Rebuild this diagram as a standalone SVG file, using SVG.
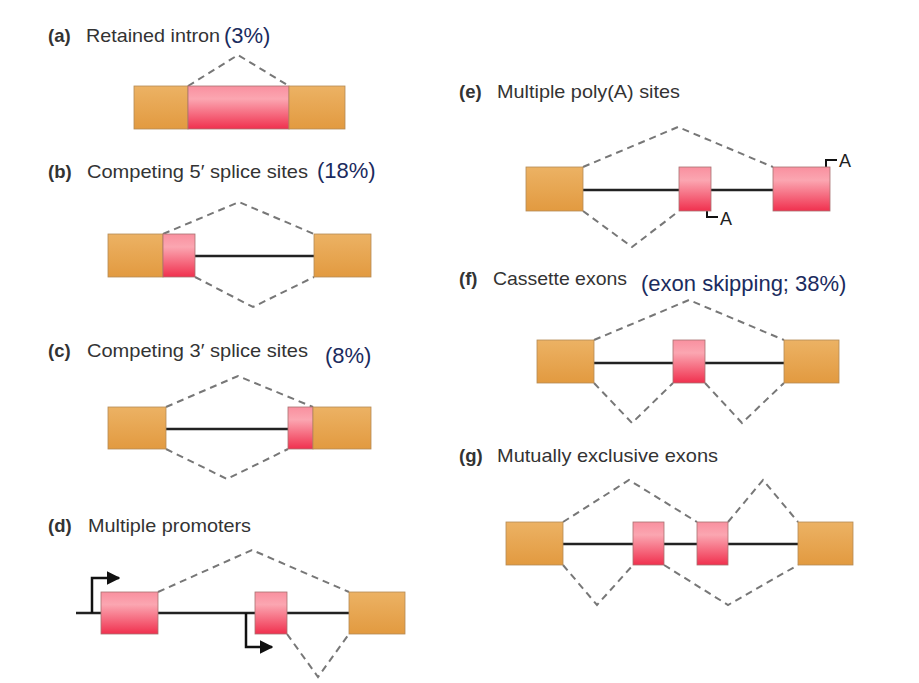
<svg xmlns="http://www.w3.org/2000/svg" width="919" height="683" viewBox="0 0 919 683">
<defs>
<linearGradient id="gOr" x1="0" y1="0" x2="0" y2="1">
<stop offset="0" stop-color="#ecb264"/><stop offset="1" stop-color="#e29a40"/>
</linearGradient>
<linearGradient id="gPk" x1="0" y1="0" x2="0" y2="1">
<stop offset="0" stop-color="#f9909f"/><stop offset="0.3" stop-color="#fba6b1"/><stop offset="1" stop-color="#f0304e"/>
</linearGradient>
<marker id="arr" viewBox="0 0 10 10" refX="9" refY="5" markerWidth="5.5" markerHeight="5.5" markerUnits="strokeWidth" orient="auto">
<path d="M0,0 L10,5 L0,10 z" fill="#111"/>
</marker>
<style>
.or{fill:url(#gOr);stroke:#b58a55;stroke-width:0.8}
.pk{fill:url(#gPk);stroke:#a87070;stroke-width:0.8}
.intron{stroke:#222;stroke-width:2.5;fill:none}
.dash{stroke:#777;stroke-width:2;stroke-dasharray:7 5;fill:none}
.prom{stroke:#111;stroke-width:2.5;fill:none}
.site{stroke:#111;stroke-width:2;fill:none}
.lbl{font-family:"Liberation Sans",Arial,sans-serif;font-size:18.5px;fill:#333}
.lt{font-weight:bold}
.pct{font-family:"Liberation Sans",Arial,sans-serif;font-size:22px;fill:#1b2b5e}
.a{font-family:"Liberation Sans",Arial,sans-serif;font-size:18px;fill:#222}
</style>
</defs>
<rect width="919" height="683" fill="#ffffff"/>

<g id="labels">
<text class="lbl lt" x="48" y="42">(a)</text>
<text class="lbl" x="86" y="42" textLength="134" lengthAdjust="spacingAndGlyphs">Retained intron</text>
<text class="pct" x="224" y="43">(3%)</text>
<text class="lbl lt" x="48" y="178">(b)</text>
<text class="lbl" x="87" y="178" textLength="221" lengthAdjust="spacingAndGlyphs">Competing 5′ splice sites</text>
<text class="pct" x="317" y="178">(18%)</text>
<text class="lbl lt" x="48" y="357">(c)</text>
<text class="lbl" x="87" y="357" textLength="221" lengthAdjust="spacingAndGlyphs">Competing 3′ splice sites</text>
<text class="pct" x="325" y="363">(8%)</text>
<text class="lbl lt" x="48" y="532">(d)</text>
<text class="lbl" x="88" y="532" textLength="163" lengthAdjust="spacingAndGlyphs">Multiple promoters</text>
<text class="lbl lt" x="459" y="98">(e)</text>
<text class="lbl" x="497" y="98" textLength="183" lengthAdjust="spacingAndGlyphs">Multiple poly(A) sites</text>
<text class="lbl lt" x="459" y="285">(f)</text>
<text class="lbl" x="493" y="285" textLength="134" lengthAdjust="spacingAndGlyphs">Cassette exons</text>
<text class="pct" x="641" y="291">(exon skipping; 38%)</text>
<text class="lbl lt" x="459" y="462">(g)</text>
<text class="lbl" x="497" y="462" textLength="221" lengthAdjust="spacingAndGlyphs">Mutually exclusive exons</text>
</g>

<g id="connectors">
<polyline class="dash" points="188,86 238,55 289,86"/>
<line class="intron" x1="195" y1="256" x2="314" y2="256"/>
<polyline class="dash" points="163,234 239,202 314,234"/>
<polyline class="dash" points="195,277 253,307 314,277"/>
<line class="intron" x1="166" y1="429" x2="288" y2="429"/>
<polyline class="dash" points="166,407 238,376 313,407"/>
<polyline class="dash" points="166,449 227,479 288,449"/>
<line class="intron" x1="76" y1="613" x2="349" y2="613"/>
<polyline class="dash" points="158,592 252,550 349,592"/>
<polyline class="dash" points="287,634 318,677 349,634"/>
<polyline class="prom" points="92,613 92,578 119,578" marker-end="url(#arr)"/>
<polyline class="prom" points="246,613 246,647 272,647" marker-end="url(#arr)"/>
<line class="intron" x1="583" y1="190" x2="773" y2="190"/>
<polyline class="dash" points="583,167 678,127 773,167"/>
<polyline class="dash" points="583,211 632,247 679,211"/>
<polyline class="site" points="707,211 707,217 718,217"/>
<polyline class="site" points="826,167 826,160 837,160"/>
<line class="intron" x1="594" y1="363" x2="784" y2="363"/>
<polyline class="dash" points="594,340 689,300 784,340"/>
<polyline class="dash" points="594,383 632,423 673,383"/>
<polyline class="dash" points="705,383 742,423 784,383"/>
<line class="intron" x1="563" y1="544" x2="798" y2="544"/>
<polyline class="dash" points="563,522 629,480 697,522"/>
<polyline class="dash" points="728,522 763,480 798,522"/>
<polyline class="dash" points="563,565 597,605 633,565"/>
<polyline class="dash" points="664,565 728,605 798,565"/>
</g>

<g id="panel-a">
<g id="a-exon1"><rect class="or" x="134" y="86" width="54" height="43"/></g>
<g id="a-intron"><rect class="pk" x="188" y="86" width="101" height="43"/></g>
<g id="a-exon2"><rect class="or" x="289" y="86" width="56" height="43"/></g>
</g>

<g id="panel-b">
<g id="b-exon1"><rect class="or" x="108" y="234" width="55" height="43"/></g>
<g id="b-alt"><rect class="pk" x="163" y="234" width="32" height="43"/></g>
<g id="b-exon2"><rect class="or" x="314" y="234" width="57" height="43"/></g>
</g>

<g id="panel-c">
<g id="c-exon1"><rect class="or" x="108" y="407" width="58" height="42"/></g>
<g id="c-alt"><rect class="pk" x="288" y="407" width="25" height="42"/></g>
<g id="c-exon2"><rect class="or" x="313" y="407" width="58" height="42"/></g>
</g>

<g id="panel-d">
<g id="d-exon1"><rect class="pk" x="101" y="592" width="57" height="42"/></g>
<g id="d-exon2"><rect class="pk" x="255" y="592" width="32" height="42"/></g>
<g id="d-exon3"><rect class="or" x="349" y="592" width="56" height="42"/></g>
</g>

<g id="panel-e">
<g id="e-exon1"><rect class="or" x="526" y="167" width="57" height="44"/></g>
<g id="e-exon2"><rect class="pk" x="679" y="167" width="32" height="44"/></g>
<g id="e-exon3"><rect class="pk" x="773" y="167" width="57" height="44"/></g>
<text class="a" x="720" y="225">A</text>
<text class="a" x="839" y="167">A</text>
</g>

<g id="panel-f">
<g id="f-exon1"><rect class="or" x="537" y="340" width="57" height="43"/></g>
<g id="f-exon2"><rect class="pk" x="673" y="340" width="32" height="43"/></g>
<g id="f-exon3"><rect class="or" x="784" y="340" width="55" height="43"/></g>
</g>

<g id="panel-g">
<g id="g-exon1"><rect class="or" x="506" y="522" width="57" height="43"/></g>
<g id="g-exon2"><rect class="pk" x="633" y="522" width="31" height="43"/></g>
<g id="g-exon3"><rect class="pk" x="697" y="522" width="31" height="43"/></g>
<g id="g-exon4"><rect class="or" x="798" y="522" width="55" height="43"/></g>
</g>
</svg>
